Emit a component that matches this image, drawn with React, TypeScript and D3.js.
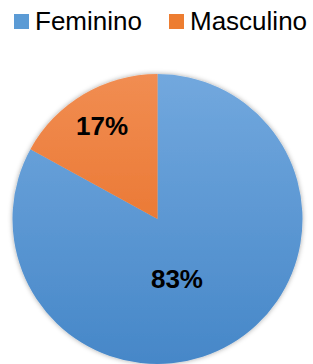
import { useEffect, useRef } from "react";
import * as d3 from "d3";

// Dados do gráfico
const categories = ["Feminino", "Masculino"];
const values = [83, 17];
const colorsTop = ["#72a8de", "#f18d52"];
const colorsBottom = ["#4687c8", "#e5671a"];

const WIDTH = 313;
const HEIGHT = 364;

export default function App() {
  const svgRef = useRef<SVGSVGElement>(null);

  useEffect(() => {
    if (!svgRef.current) return;
    const svg = d3.select(svgRef.current);
    svg.selectAll("*").remove();

    const cx = 157.5;
    const cy = 219;
    const radius = 145;

    const defs = svg.append("defs");
    categories.forEach((_, i) => {
      const grad = defs
        .append("linearGradient")
        .attr("id", `grad-${i}`)
        .attr("gradientUnits", "userSpaceOnUse")
        .attr("x1", 0)
        .attr("y1", -radius)
        .attr("x2", 0)
        .attr("y2", radius);
      grad.append("stop").attr("offset", "0%").attr("stop-color", colorsTop[i]);
      grad.append("stop").attr("offset", "100%").attr("stop-color", colorsBottom[i]);
    });

    const shadow = defs.append("filter").attr("id", "shadow").attr("x", "-20%").attr("y", "-20%").attr("width", "140%").attr("height", "140%");
    shadow.append("feDropShadow").attr("dx", 0).attr("dy", 0).attr("stdDeviation", 2.5).attr("flood-color", "#000").attr("flood-opacity", 0.35);

    // Legenda
    const legendX = [14, 169];
    const legend = svg.append("g").style("font-family", "'Liberation Sans', Arial, sans-serif");
    categories.forEach((c, i) => {
      legend
        .append("rect")
        .attr("x", legendX[i])
        .attr("y", 14)
        .attr("width", 15)
        .attr("height", 15)
        .attr("fill", `url(#grad-${i})`)
        .attr("fill", i === 0 ? "#5b9bd5" : "#ed7d31");
      legend
        .append("text")
        .attr("x", legendX[i] + 21)
        .attr("y", 30)
        .style("font-size", "26px")
        .attr("fill", "#000")
        .text(c);
    });

    const pie = d3.pie<number>().sort(null).value((d) => d);
    const arcs = pie(values);
    const arc = d3.arc<d3.PieArcDatum<number>>().innerRadius(0).outerRadius(radius);

    const g = svg.append("g").attr("transform", `translate(${cx},${cy})`);
    g.append("g")
      .attr("filter", "url(#shadow)")
      .selectAll("path")
      .data(arcs)
      .enter()
      .append("path")
      .attr("d", arc)
      .attr("fill", (_, i) => `url(#grad-${i})`);

    // Rótulos (posição aproximada do Excel)
    const labelRadius = [63, 109];
    const labelAngleShift = [0.22, 0];
    const total = d3.sum(values);
    g.selectAll("text.lbl")
      .data(arcs)
      .enter()
      .append("text")
      .attr("class", "lbl")
      .attr("transform", (d, i) => {
        const a = (d.startAngle + d.endAngle) / 2 + labelAngleShift[i];
        const r = labelRadius[i];
        return `translate(${r * Math.sin(a)},${-r * Math.cos(a)})`;
      })
      .attr("text-anchor", "middle")
      .attr("dy", "0.36em")
      .style("font-family", "'Liberation Sans', Arial, sans-serif")
      .style("font-weight", "bold")
      .style("font-size", "26px")
      .attr("fill", "#000")
      .text((d) => `${Math.round((d.data / total) * 100)}%`);
  }, []);

  return (
    <svg
      ref={svgRef}
      width={WIDTH}
      height={HEIGHT}
      style={{ position: "absolute", left: 0, top: 0, background: "#fff" }}
    />
  );
}
